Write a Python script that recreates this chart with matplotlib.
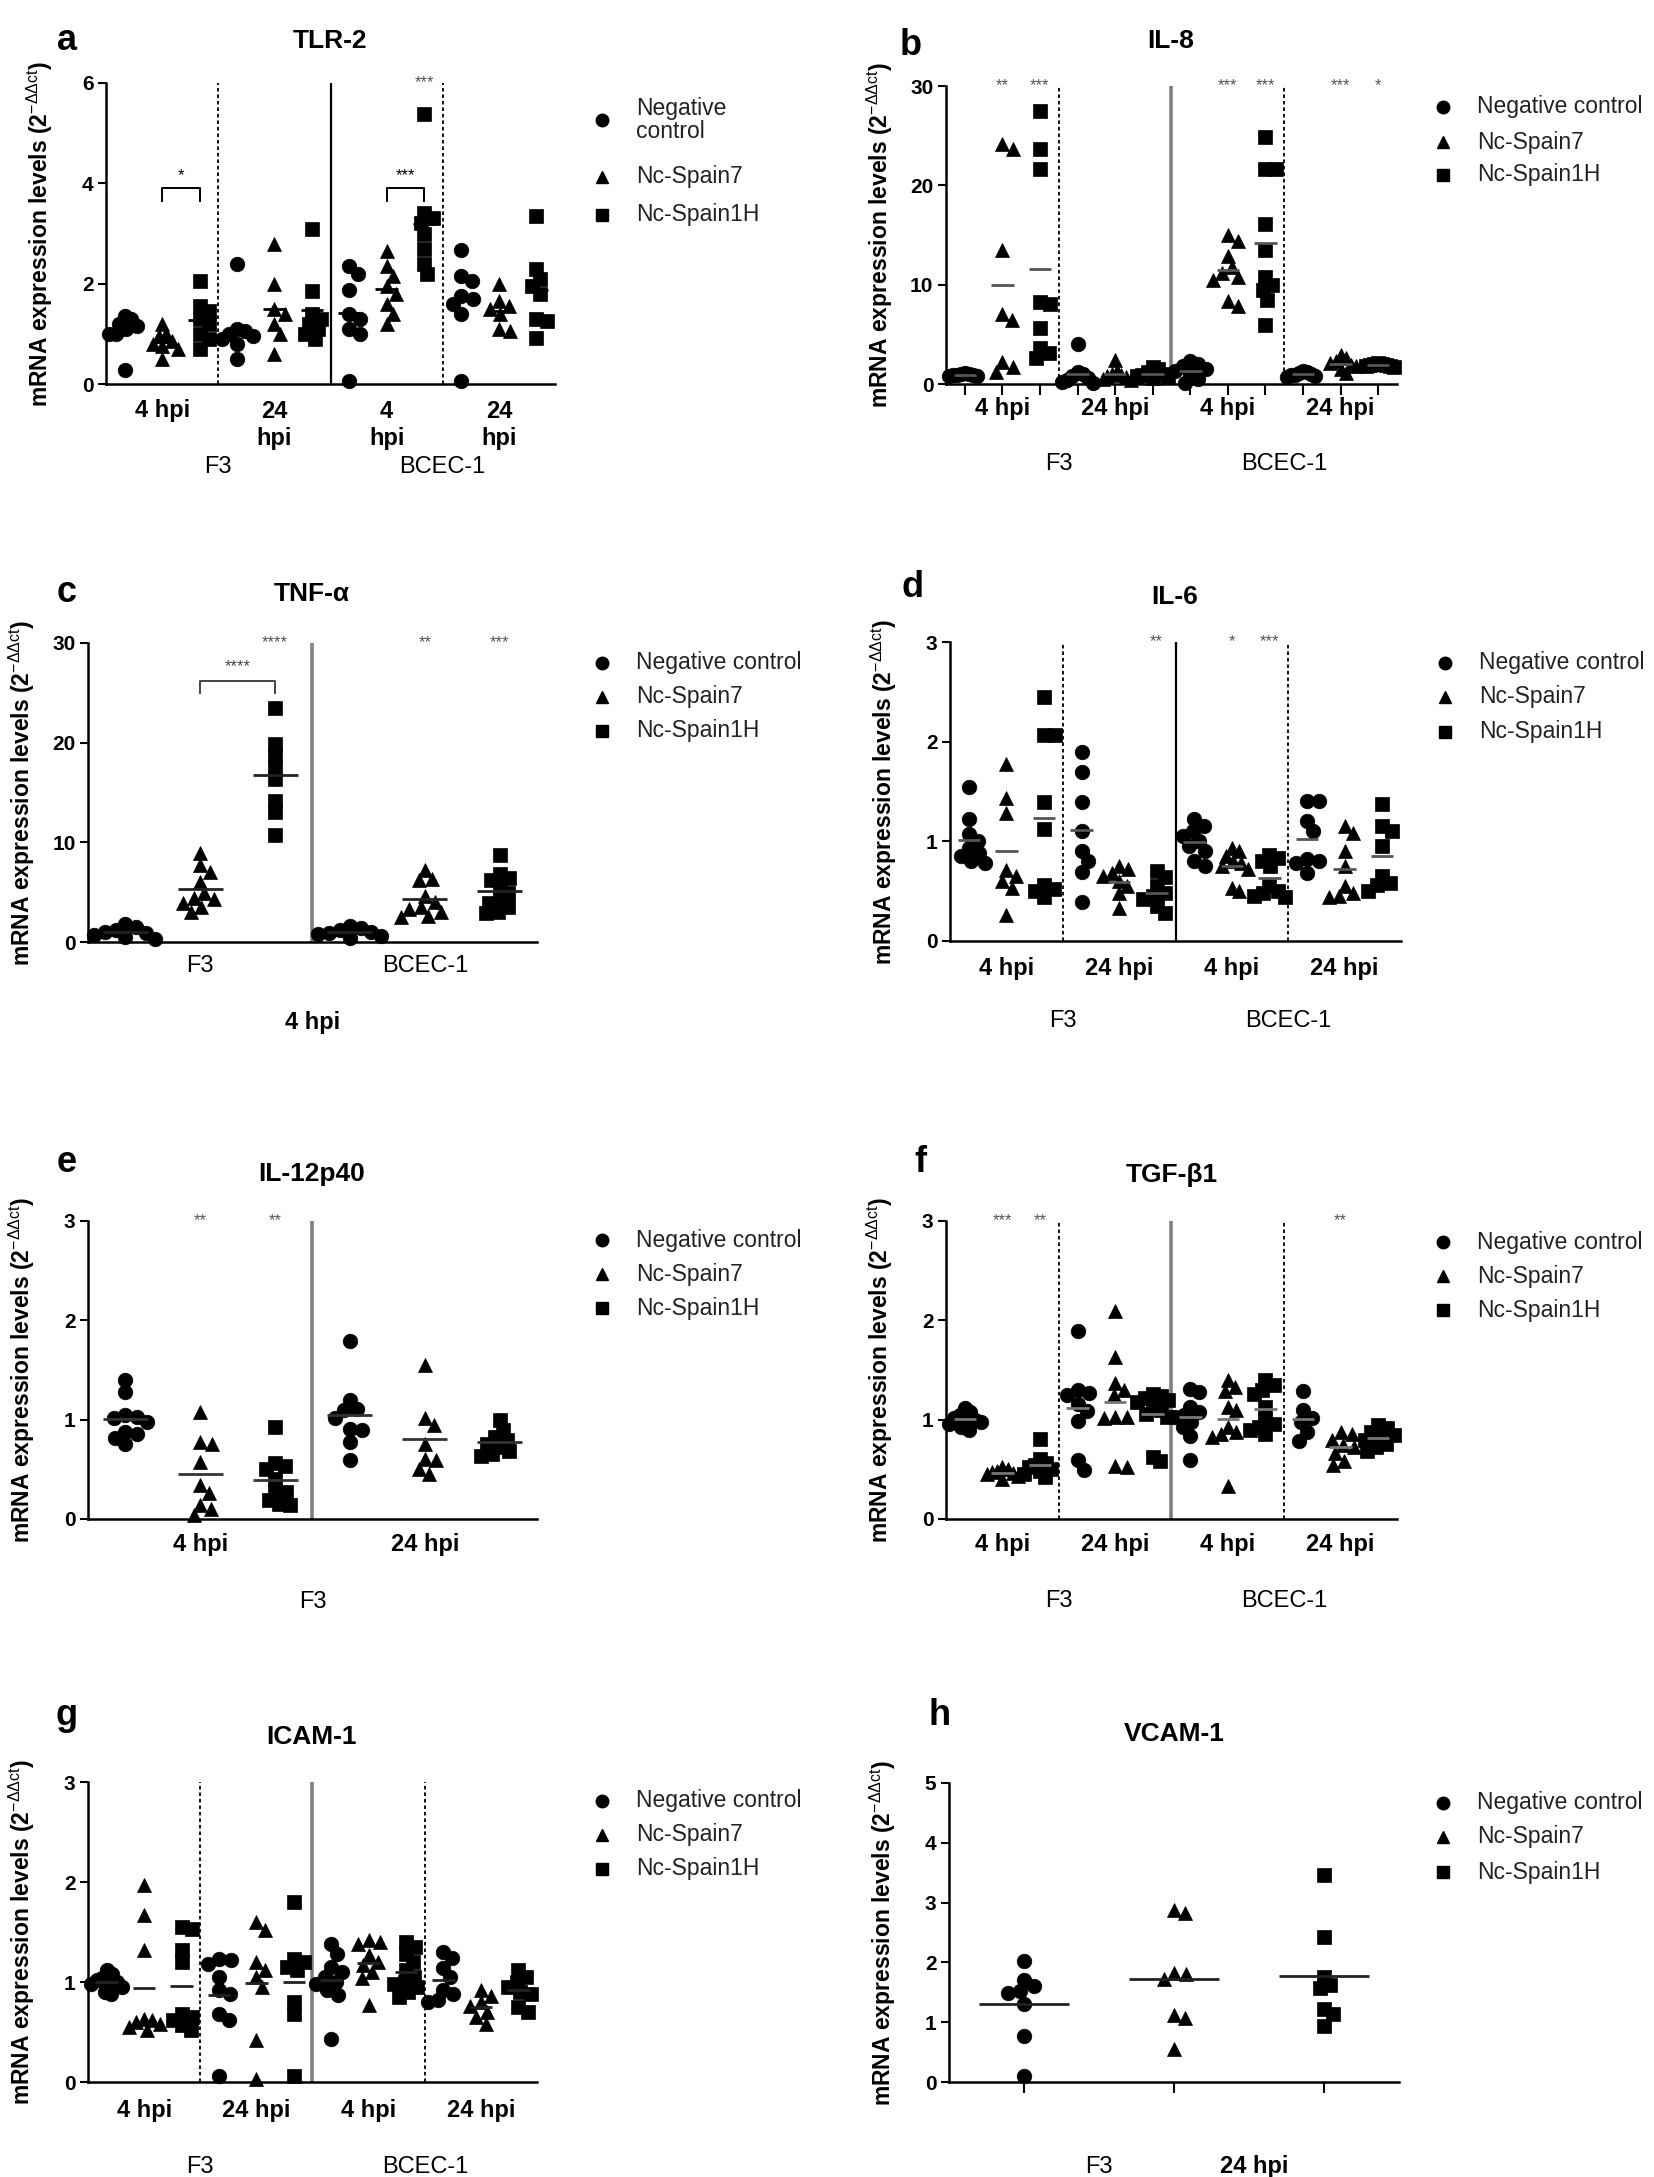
import numpy as np
import matplotlib
matplotlib.use('Agg')
import matplotlib.pyplot as plt
from matplotlib.lines import Line2D

# every panel: negative control, Nc-Spain7, Nc-Spain1H
legend_labels = ['Negative control', 'Nc-Spain7', 'Nc-Spain1H']
cell_lines = ['F3', 'BCEC-1']
hpi_labels = ['4 hpi', '24 hpi', '4 hpi', '24 hpi']
ylabel = 'mRNA expression levels (2$^{\\mathrm{-\\Delta\\Delta ct}}$)'

# a  TLR-2   groups: F3 4h, F3 24h, BCEC-1 4h, BCEC-1 24h
tlr2_neg = [[1.35, 1.3, 1.2, 1.15, 1.1, 1.0, 1.0, 0.28],
            [2.4, 1.1, 1.05, 1.0, 0.95, 0.9, 0.8, 0.5],
            [2.35, 2.2, 1.88, 1.4, 1.3, 1.1, 1.0, 0.05],
            [2.68, 2.15, 2.05, 1.75, 1.7, 1.6, 1.4, 0.05]]
tlr2_sp7 = [[1.2, 1.0, 0.95, 0.85, 0.8, 0.75, 0.7, 0.5],
            [2.8, 2.0, 1.5, 1.4, 1.2, 1.0, 0.6],
            [2.65, 2.35, 2.15, 1.95, 1.8, 1.6, 1.4, 1.2],
            [2.0, 1.65, 1.55, 1.5, 1.4, 1.1, 1.05]]
tlr2_sp1h = [[2.05, 1.55, 1.45, 1.3, 1.2, 1.0, 0.9, 0.7],
             [3.08, 1.85, 1.4, 1.3, 1.2, 1.1, 1.0, 0.9],
             [5.38, 3.4, 3.3, 3.2, 3.0, 2.7, 2.4, 2.2],
             [3.35, 2.3, 2.1, 1.95, 1.8, 1.3, 1.25, 0.92]]
tlr2_xlabels = ['4 hpi', '24\nhpi', '4\nhpi', '24\nhpi']
tlr2_stars = [(2, 2, '***')]

# b  IL-8
il8_neg = [[1.1, 1.0, 1.0, 0.95, 0.9, 0.9, 0.85, 0.8],
           [4.0, 1.2, 1.0, 0.8, 0.6, 0.4, 0.2, 0.1],
           [2.3, 2.0, 1.8, 1.5, 1.3, 1.0, 0.5, 0.1],
           [1.3, 1.2, 1.1, 1.0, 0.9, 0.9, 0.8, 0.7]]
il8_sp7 = [[24.2, 23.7, 13.5, 7.0, 6.4, 2.2, 1.7, 1.2],
           [2.4, 1.3, 1.0, 0.9, 0.8, 0.7, 0.5, 0.4],
           [15.0, 14.4, 12.9, 11.8, 11.2, 10.8, 10.5, 8.4, 7.9],
           [2.9, 2.6, 2.3, 2.1, 1.9, 1.8, 1.5, 1.1]]
il8_sp1h = [[27.5, 23.7, 21.6, 8.3, 8.1, 5.6, 3.6, 3.1, 2.6],
            [1.7, 1.5, 1.2, 1.0, 0.9, 0.8, 0.7, 0.6],
            [24.9, 21.6, 21.6, 16.1, 13.5, 10.8, 10.0, 9.5, 8.5, 5.9],
            [2.1, 2.0, 2.0, 1.9, 1.9, 1.8, 1.8, 1.7]]
il8_stars = [(0, 1, '**'), (0, 2, '***'), (2, 1, '***'), (2, 2, '***'),
             (3, 1, '***'), (3, 2, '*')]

# c  TNF-alpha   groups: F3, BCEC-1 (4 hpi)
tnf_neg = [[1.8, 1.5, 1.2, 1.0, 0.9, 0.7, 0.5, 0.3],
           [1.6, 1.4, 1.2, 1.0, 0.9, 0.8, 0.6, 0.4]]
tnf_sp7 = [[8.9, 7.7, 7.0, 6.0, 4.9, 4.4, 4.3, 3.9, 3.5, 3.0],
           [7.2, 6.3, 6.2, 4.6, 4.0, 3.5, 3.3, 3.0, 2.6, 2.5]]
tnf_sp1h = [[23.5, 19.9, 18.8, 17.6, 16.4, 14.1, 13.0, 10.7],
            [8.7, 6.8, 6.4, 6.2, 5.5, 4.9, 4.2, 3.9, 3.5, 3.0, 2.9]]
tnf_stars = [(0, 2, '****'), (1, 1, '**'), (1, 2, '***')]

# d  IL-6
il6_neg = [[1.55, 1.22, 1.07, 1.0, 0.93, 0.88, 0.85, 0.8, 0.78],
           [1.9, 1.7, 1.39, 1.1, 0.9, 0.8, 0.69, 0.39],
           [1.22, 1.15, 1.1, 1.05, 1.0, 0.95, 0.9, 0.8, 0.75],
           [1.4, 1.4, 1.2, 1.1, 0.82, 0.8, 0.78, 0.68]]
il6_sp7 = [[1.78, 1.43, 1.28, 0.71, 0.65, 0.6, 0.53, 0.26],
           [0.75, 0.72, 0.68, 0.65, 0.6, 0.55, 0.48, 0.33],
           [0.93, 0.9, 0.85, 0.8, 0.78, 0.75, 0.72, 0.53, 0.5],
           [1.15, 1.08, 0.9, 0.75, 0.55, 0.48, 0.45, 0.44]]
il6_sp1h = [[2.45, 2.07, 2.07, 1.39, 1.12, 0.56, 0.52, 0.5, 0.44],
            [0.7, 0.64, 0.55, 0.48, 0.45, 0.42, 0.35, 0.28],
            [0.86, 0.83, 0.8, 0.75, 0.55, 0.5, 0.48, 0.45, 0.44],
            [1.37, 1.15, 1.1, 0.95, 0.65, 0.58, 0.56, 0.5]]
il6_stars = [(1, 2, '**'), (2, 1, '*'), (2, 2, '***')]

# e  IL-12p40   groups: F3 4h, F3 24h
il12_neg = [[1.4, 1.28, 1.05, 1.03, 1.02, 0.98, 0.88, 0.86, 0.82, 0.76],
            [1.79, 1.2, 1.11, 1.1, 1.02, 0.91, 0.9, 0.78, 0.59]]
il12_sp7 = [[1.08, 0.78, 0.76, 0.57, 0.34, 0.26, 0.14, 0.1, 0.04],
            [1.55, 1.02, 0.95, 0.76, 0.6, 0.59, 0.5, 0.45]]
il12_sp1h = [[0.93, 0.56, 0.53, 0.5, 0.4, 0.28, 0.27, 0.19, 0.15, 0.14],
             [1.0, 0.9, 0.83, 0.8, 0.76, 0.72, 0.68, 0.65, 0.63]]
il12_stars = [(0, 1, '**'), (0, 2, '**')]

# f  TGF-beta1
tgf_neg = [[1.12, 1.08, 1.05, 1.02, 1.0, 1.0, 0.98, 0.96, 0.93, 0.9],
           [1.89, 1.3, 1.27, 1.25, 1.16, 1.09, 0.99, 0.59, 0.49],
           [1.31, 1.28, 1.13, 1.08, 1.05, 1.03, 0.98, 0.93, 0.84, 0.59],
           [1.29, 1.1, 1.02, 0.98, 0.88, 0.79]]
tgf_sp7 = [[0.52, 0.5, 0.48, 0.47, 0.46, 0.45, 0.43, 0.4],
           [2.09, 1.63, 1.37, 1.3, 1.25, 1.03, 1.03, 1.02, 0.53, 0.52],
           [1.4, 1.33, 1.29, 1.13, 1.1, 0.93, 0.88, 0.86, 0.83, 0.33],
           [0.88, 0.86, 0.8, 0.75, 0.72, 0.66, 0.58, 0.54]]
tgf_sp1h = [[0.81, 0.6, 0.56, 0.54, 0.52, 0.5, 0.48, 0.45, 0.42],
            [1.26, 1.24, 1.22, 1.2, 1.18, 1.13, 1.1, 1.06, 1.03, 0.62, 0.58],
            [1.4, 1.35, 1.3, 1.26, 1.13, 1.0, 0.96, 0.93, 0.9, 0.86],
            [0.95, 0.92, 0.88, 0.85, 0.82, 0.8, 0.76, 0.72, 0.68]]
tgf_stars = [(0, 1, '***'), (0, 2, '**'), (3, 1, '**')]

# g  ICAM-1
icam_neg = [[1.12, 1.08, 1.04, 1.02, 1.0, 1.0, 0.98, 0.95, 0.9, 0.88],
            [1.23, 1.22, 1.18, 1.05, 0.92, 0.88, 0.68, 0.62, 0.06],
            [1.38, 1.28, 1.15, 1.1, 1.05, 1.0, 0.98, 0.92, 0.87, 0.43],
            [1.3, 1.24, 1.14, 1.05, 0.92, 0.88, 0.82, 0.8]]
icam_sp7 = [[1.97, 1.67, 1.32, 0.63, 0.62, 0.6, 0.58, 0.55, 0.52],
            [1.6, 1.52, 1.2, 1.12, 1.05, 0.95, 0.42, 0.03],
            [1.42, 1.4, 1.38, 1.27, 1.2, 1.17, 1.1, 1.04, 0.77],
            [0.92, 0.86, 0.8, 0.76, 0.7, 0.65, 0.58]]
icam_sp1h = [[1.55, 1.53, 1.32, 1.2, 0.68, 0.65, 0.62, 0.57, 0.52],
             [1.8, 1.23, 1.2, 1.15, 1.12, 0.8, 0.68, 0.06],
             [1.4, 1.35, 1.28, 1.2, 1.12, 1.05, 1.0, 0.98, 0.95, 0.9, 0.85],
             [1.12, 1.05, 1.0, 0.95, 0.9, 0.88, 0.75, 0.7]]

# h  VCAM-1  (F3, 24 hpi)
vcam_neg = [2.02, 1.7, 1.6, 1.52, 1.48, 1.3, 0.77, 0.1]
vcam_sp7 = [2.88, 2.82, 1.82, 1.8, 1.72, 1.12, 1.07, 0.55]
vcam_sp1h = [3.46, 2.42, 1.76, 1.62, 1.57, 1.22, 1.14, 0.94]


plt.rcParams['font.family'] = ['Liberation Sans', 'DejaVu Sans']
plt.rcParams['mathtext.fontset'] = 'custom'
plt.rcParams['mathtext.rm'] = 'Liberation Sans'
plt.rcParams['mathtext.it'] = 'Liberation Sans:italic'
plt.rcParams['mathtext.bf'] = 'Liberation Sans:bold'

W, H = 1654, 2177
fig = plt.figure(figsize=(W / 100, H / 100), dpi=100)

MARKERS = ['o', '^', 's']
MS = {'o': 10.5, '^': 10.5, 's': 9.5}
OFFS = [1 / 6, 1 / 2, 5 / 6]
SEP = {'dash': dict(color='black', lw=1.3, ls=(0, (2, 1.6))),
       'solid': dict(color='black', lw=1.6),
       'gray': dict(color='#7f7f7f', lw=2.6)}


def T(x, y, s, **kw):
    # text placed in figure pixels (from top-left)
    return fig.text(x / W, 1 - y / H, s, **kw)


def swarm(ax, xc, vals, ms, limit):
    # simple beeswarm so points with close values sit side by side
    x0, x1 = ax.get_xlim()
    sx = ax.bbox.width / (x1 - x0)
    sy = ax.bbox.height / ax.get_ylim()[1]
    d = ms * 100 / 72 * 0.8
    placed = []
    off = np.zeros(len(vals))
    for i in np.argsort(-np.asarray(vals), kind='stable'):
        py = vals[i] * sy
        cands = [0.0]
        for qx, qy in placed:
            dy = abs(py - qy)
            if dy < d:
                dx = np.sqrt(d * d - dy * dy)
                cands += [qx + dx, qx - dx]
        cands.sort(key=abs)
        best = next((c for c in cands
                     if all((c - qx) ** 2 + (py - qy) ** 2 >= d * d - 1e-6 for qx, qy in placed)),
                    cands[-1])
        placed.append((best, py))
        off[i] = best
    span = np.abs(off).max()
    if span > limit:
        off *= limit / span
    return xc + off / sx


def panel(box, series, ymax, yticks, seps, mean_color, xticks=False):
    x0, x1, yt, yb = box
    ax = fig.add_axes([x0 / W, 1 - yb / H, (x1 - x0) / W, (yb - yt) / H])
    ng = len(series[0])
    ax.set_xlim(0, ng)
    ax.set_ylim(0, ymax)
    for s in ['top', 'right']:
        ax.spines[s].set_visible(False)
    for s in ['left', 'bottom']:
        ax.spines[s].set_linewidth(1.8)
    ax.set_yticks(yticks)
    ax.set_yticklabels([str(t) for t in yticks], fontsize=15, fontweight='bold')
    ax.tick_params(axis='y', length=6, width=1.5, pad=3)
    if xticks:
        ax.set_xticks([g + o for g in range(ng) for o in OFFS])
        ax.set_xticklabels([])
        ax.tick_params(axis='x', length=8, width=1.5)
    else:
        ax.set_xticks([])
    for xs, st in seps:
        ax.axvline(xs, zorder=1, **SEP[st])
    col_px = (x1 - x0) / ng / 3
    for g in range(ng):
        for j, m in enumerate(MARKERS):
            vals = np.array(series[j][g], dtype=float)
            xc = g + OFFS[j]
            xs = swarm(ax, xc, vals, MS[m], 0.42 * col_px)
            ax.plot(xs, vals, ls='none', marker=m, ms=MS[m], color='black',
                    mew=0.5, clip_on=False, zorder=3)
            mu = vals.mean()
            ax.plot([xc - 0.1, xc + 0.1], [mu, mu], color=mean_color, lw=2,
                    solid_capstyle='butt', zorder=4)
    T(x0 - 66, (yt + yb) / 2, ylabel, rotation=90, ha='center', va='center',
      fontsize=16.5, fontweight='bold')
    return ax


def stars(ax, items, ymax):
    for g, j, s in items:
        ax.text(g + OFFS[j], ymax, s, ha='center', va='center', fontsize=12, color='#555555')


def bracket(ax, g, s, ylo, yhi, ytxt, color='black'):
    xa, xb = g + OFFS[1], g + OFFS[2]
    ax.plot([xa, xa, xb, xb], [ylo, yhi, yhi, ylo], color=color, lw=1.4)
    ax.text((xa + xb) / 2, ytxt, s, ha='center', va='center', fontsize=12, color=color)


def legend(mx, ys, labels):
    for m, y, lab in zip(MARKERS, ys, labels):
        fig.add_artist(Line2D([mx / W], [1 - y / H], marker=m, ms=9, color='black',
                              ls='none', transform=fig.transFigure))
        T(mx + 34, y, lab, ha='left', va='center', fontsize=16.5, color='#222222',
          linespacing=1.0)


def xlabels(box, labels, y, bold=True, centers=None):
    x0, x1 = box[0], box[1]
    n = len(labels)
    if centers is None:
        centers = [x0 + (i + 0.5) * (x1 - x0) / n for i in range(n)]
    for cx, lab in zip(centers, labels):
        for k, line in enumerate(lab.split('\n')):
            T(cx, y + 4 + 28 * k, line, ha='center', va='center', fontsize=17,
              fontweight='bold' if bold else 'normal')


def heading(letter, lx, ly, title, tx, ty):
    T(lx, ly, letter, ha='center', va='baseline', fontsize=26, fontweight='bold')
    T(tx, ty, title, ha='center', va='center', fontsize=19, fontweight='bold')


four = [(1, 'dash'), (2, 'solid'), (3, 'dash')]
four_gray = [(1, 'dash'), (2, 'gray'), (3, 'dash')]

# a
box = (106, 555, 83, 384)
ax = panel(box, [tlr2_neg, tlr2_sp7, tlr2_sp1h], 6, [0, 2, 4, 6], four, 'black')
stars(ax, tlr2_stars, 6)
bracket(ax, 0, '*', 3.65, 3.9, 4.15)
bracket(ax, 2, '***', 3.65, 3.9, 4.15)
heading('a', 67, 50, 'TLR-2', 330, 41)
xlabels(box, tlr2_xlabels, 407)
xlabels(box, cell_lines, 463, bold=False)
legend(602, [120, 177, 215], ['Negative\ncontrol'] + legend_labels[1:])

# b
box = (946, 1397, 86, 384)
ax = panel(box, [il8_neg, il8_sp7, il8_sp1h], 30, [0, 10, 20, 30], four_gray, '#555555', xticks=True)
stars(ax, il8_stars, 30)
heading('b', 911, 55, 'IL-8', 1171, 41)
xlabels(box, hpi_labels, 405)
xlabels(box, cell_lines, 460, bold=False)
legend(1443, [107, 142, 175], legend_labels)

# c
box = (88, 537, 643, 942)
ax = panel(box, [tnf_neg, tnf_sp7, tnf_sp1h], 30, [0, 10, 20, 30], [(1, 'gray')], '#222222')
stars(ax, tnf_stars, 30)
bracket(ax, 0, '****', 25.0, 26.2, 27.6, color='#444444')
heading('c', 67, 602, 'TNF-α', 312, 594)
xlabels(box, cell_lines, 962, bold=False)
xlabels(box, ['4 hpi'], 1018)
legend(602, [663, 697, 731], legend_labels)

# d
box = (950, 1401, 642, 941)
ax = panel(box, [il6_neg, il6_sp7, il6_sp1h], 3, [0, 1, 2, 3], four, '#555555')
stars(ax, il6_stars, 3)
heading('d', 913, 597, 'IL-6', 1175, 597)
xlabels(box, hpi_labels, 965)
xlabels(box, cell_lines, 1017, bold=False)
legend(1445, [663, 697, 732], legend_labels)

# e
box = (88, 537, 1221, 1519)
ax = panel(box, [il12_neg, il12_sp7, il12_sp1h], 3, [0, 1, 2, 3], [(1, 'gray')], '#333333')
stars(ax, il12_stars, 3)
heading('e', 67, 1172, 'IL-12p40', 312, 1174)
xlabels(box, hpi_labels[:2], 1540)
xlabels(box, cell_lines[:1], 1598, bold=False)
legend(602, [1240, 1274, 1308], legend_labels)

# f
box = (946, 1397, 1221, 1519)
ax = panel(box, [tgf_neg, tgf_sp7, tgf_sp1h], 3, [0, 1, 2, 3], four_gray, '#777777')
stars(ax, tgf_stars, 3)
heading('f', 920, 1172, 'TGF-β1', 1172, 1175)
xlabels(box, hpi_labels, 1540)
xlabels(box, cell_lines, 1597, bold=False)
legend(1443, [1242, 1276, 1310], legend_labels)

# g
box = (88, 537, 1782, 2082)
ax = panel(box, [icam_neg, icam_sp7, icam_sp1h], 3, [0, 1, 2, 3], four_gray, '#222222')
heading('g', 67, 1725, 'ICAM-1', 312, 1737)
xlabels(box, hpi_labels, 2107)
xlabels(box, cell_lines, 2163, bold=False)
legend(602, [1801, 1835, 1869], legend_labels)

# h
box = (949, 1399, 1783, 2082)
ax = panel(box, [[vcam_neg], [vcam_sp7], [vcam_sp1h]], 5, [0, 1, 2, 3, 4, 5], [], '#222222', xticks=True)
heading('h', 940, 1725, 'VCAM-1', 1174, 1734)
xlabels(box, cell_lines[:1], 2163, bold=False, centers=[1099])
xlabels(box, ['24 hpi'], 2163, centers=[1254])
legend(1443, [1803, 1837, 1872], legend_labels)

fig.savefig('out.png', dpi=100)
